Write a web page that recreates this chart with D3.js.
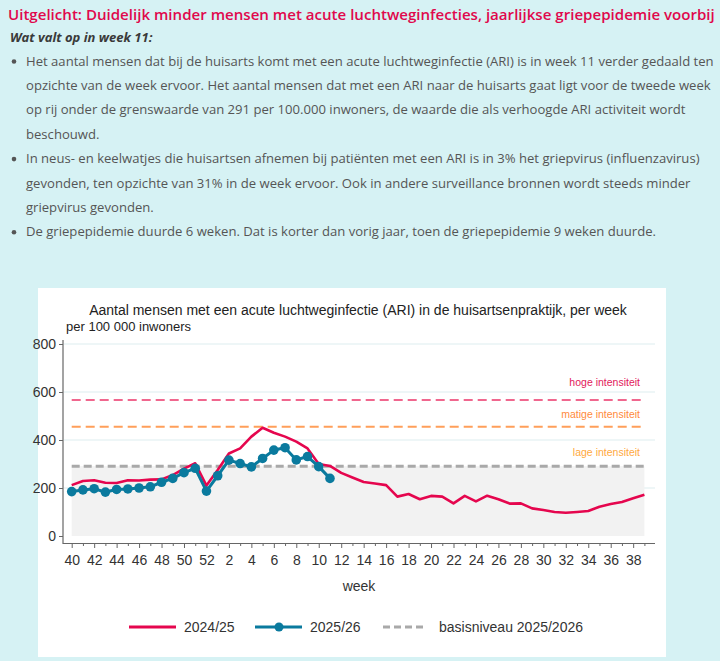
<!DOCTYPE html>
<html><head><meta charset="utf-8">
<script src="https://cdn.jsdelivr.net/npm/d3@7"></script>
<style>
html,body{margin:0;padding:0;background:#d6f2f4;}
svg{display:block;}
</style></head>
<body>
<svg id="c" width="720" height="661"></svg>
<script>
// ---------- data ----------
const weeks = [40,41,42,43,44,45,46,47,48,49,50,51,52,1,2,3,4,5,6,7,8,9,10,11,12,13,14,15,16,17,18,19,20,21,22,23,24,25,26,27,28,29,30,31,32,33,34,35,36,37,38,39];
const season2425 = [212,229,232,222,221,232,231,235,236,254,281,303,210,275,344,365,414,451,430,414,393,365,300,292,263,244,225,219,212,164,175,153,167,164,136,167,144,168,153,135,136,115,108,100,97,100,104,122,133,142,157,172];
const season2526 = [185,192,197,183,194,196,200,205,224,240,264,282,187,251,316,302,288,323,358,368,317,331,289,240];
const thresholdNames = ["hoge intensiteit","matige intensiteit","lage intensiteit"];
const thresholdValues = [567,455,291];
const yTicks = [0,200,400,600,800];
const legendLabels = ["2024/25","2025/26","basisniveau 2025/2026"];
const headline = "Uitgelicht: Duidelijk minder mensen met acute luchtweginfecties, jaarlijkse griepepidemie voorbij";
const subhead = "Wat valt op in week 11:";
const bullets = [
 ["Het aantal mensen dat bij de huisarts komt met een acute luchtweginfectie (ARI) is in week 11 verder gedaald ten",
  "opzichte van de week ervoor. Het aantal mensen dat met een ARI naar de huisarts gaat ligt voor de tweede week",
  "op rij onder de grenswaarde van 291 per 100.000 inwoners, de waarde die als verhoogde ARI activiteit wordt",
  "beschouwd."],
 ["In neus- en keelwatjes die huisartsen afnemen bij patiënten met een ARI is in 3% het griepvirus (influenzavirus)",
  "gevonden, ten opzichte van 31% in de week ervoor. Ook in andere surveillance bronnen wordt steeds minder",
  "griepvirus gevonden."],
 ["De griepepidemie duurde 6 weken. Dat is korter dan vorig jaar, toen de griepepidemie 9 weken duurde."]
];
const chartTitle = "Aantal mensen met een acute luchtweginfectie (ARI) in de huisartsenpraktijk, per week";
const yUnit = "per 100 000 inwoners";
const xTitle = "week";

// ---------- styles ----------
const RED = "#e5064e", BLUE = "#0a7a9e", GRAY = "#a9a9a9";
const thColors = ["#f0678e","#ff9f5a",GRAY];
const thLabelColors = ["#e2185a","#ff8a3c","#ffa940"];
const svg = d3.select("#c");
const sans = "'Open Sans', sans-serif";
const arial = "Arial, 'Liberation Sans', sans-serif";

// ---------- text block ----------
function fitText(sel, target){
  const w = sel.node().getComputedTextLength();
  const fs = parseFloat(sel.attr("font-size"));
  sel.attr("font-size", (fs*target/w).toFixed(2));
  return fs*target/w;
}
const h = svg.append("text").attr("x",8).attr("y",20).attr("font-family",sans)
  .attr("font-size",16).attr("font-weight",600).attr("fill","#e0084c").text(headline);
fitText(h, 707);
svg.append("text").attr("x",10).attr("y",42).attr("font-family",sans)
  .attr("font-size",13).attr("font-weight","bold").attr("font-style","italic")
  .attr("fill","#3a3a3a").text(subhead);

let lineY = 65.5;
const lh = 24.4;
let bodyFs = null;
bullets.forEach(par=>{
  svg.append("circle").attr("cx",14).attr("cy",lineY-4).attr("r",2.3).attr("fill","#555");
  par.forEach(line=>{
    const t = svg.append("text").attr("x",26).attr("y",lineY).attr("font-family",sans)
      .attr("font-size",13).attr("fill","#555").text(line);
    if(bodyFs===null){ bodyFs = fitText(t, 688); } else t.attr("font-size",bodyFs);
    lineY += lh;
  });
});

// ---------- chart box ----------
svg.append("rect").attr("x",38).attr("y",288).attr("width",628).attr("height",369).attr("fill","#fff");

const x = d3.scaleLinear().domain([0,51]).range([71.7,644.4]);
const y = d3.scaleLinear().domain([0,800]).range([536,344]);

// gridlines
svg.append("g").selectAll("line").data(yTicks.slice(1)).join("line")
  .attr("x1",64).attr("x2",655).attr("y1",d=>y(d)).attr("y2",d=>y(d))
  .attr("stroke","#e9f3f5").attr("stroke-width",1.5);

// baseline area
svg.append("rect").attr("x",x(0)).attr("y",y(thresholdValues[2]))
  .attr("width",x(51)-x(0)).attr("height",y(0)-y(thresholdValues[2])).attr("fill","#f2f2f2");

// threshold lines
thresholdValues.forEach((v,i)=>{
  svg.append("line").attr("x1",x(0)).attr("x2",x(51)).attr("y1",y(v)).attr("y2",y(v))
    .attr("stroke",thColors[i]).attr("stroke-width", i===2?3:2)
    .attr("stroke-dasharray", i===2?"8,4":"9,5");
});
[ {i:0,dy:-14},{i:1,dy:-9},{i:2,dy:-10} ].forEach(o=>{
  svg.append("text").attr("x",640).attr("y",y(thresholdValues[o.i])+o.dy)
    .attr("text-anchor","end").attr("font-family",arial).attr("font-size",10.5)
    .attr("fill",thLabelColors[o.i]).text(thresholdNames[o.i]);
});

// axes
const ya = svg.append("g").attr("transform","translate(63,0)")
  .call(d3.axisLeft(y).tickValues(yTicks).tickSize(4).tickPadding(3));
ya.select(".domain").attr("d","M0,340V544").attr("stroke","#666").attr("stroke-width",1.2);
ya.selectAll(".tick line").attr("stroke","#666");
ya.selectAll("text").attr("font-family",arial).attr("font-size",14).attr("fill","#333");

const xa = svg.append("g").attr("transform","translate(0,543.5)")
  .call(d3.axisBottom(x).tickValues(d3.range(weeks.length))
    .tickFormat(i=> i%2===0 ? weeks[i] : "").tickSize(4).tickPadding(8));
xa.select(".domain").attr("d","M63,0H655").attr("stroke","#666").attr("stroke-width",1.2);
xa.selectAll(".tick line").attr("stroke","#666").attr("y2",(d)=>d%2===0?4.5:2.5);
xa.selectAll("text").attr("font-family",arial).attr("font-size",14).attr("fill","#333");

// titles
svg.append("text").attr("x",358).attr("y",315).attr("text-anchor","middle")
  .attr("font-family",arial).attr("font-size",14).attr("fill","#222").text(chartTitle);
svg.append("text").attr("x",66).attr("y",331).attr("font-family",arial)
  .attr("font-size",13).attr("fill","#222").text(yUnit);
svg.append("text").attr("x",359).attr("y",591).attr("text-anchor","middle")
  .attr("font-family",arial).attr("font-size",14).attr("fill","#333").text(xTitle);

// lines
const line = d3.line().x((d,i)=>x(i)).y(d=>y(d));
svg.append("path").datum(season2425).attr("d",line).attr("fill","none")
  .attr("stroke",RED).attr("stroke-width",2.6).attr("stroke-linejoin","round");
svg.append("path").datum(season2526).attr("d",line).attr("fill","none")
  .attr("stroke",BLUE).attr("stroke-width",3).attr("stroke-linejoin","round");
svg.append("g").selectAll("circle").data(season2526).join("circle")
  .attr("cx",(d,i)=>x(i)).attr("cy",d=>y(d)).attr("r",4.8).attr("fill",BLUE);

// legend
const lg = svg.append("g").attr("font-family",arial).attr("font-size",14).attr("fill","#333");
lg.append("line").attr("x1",129).attr("x2",176).attr("y1",627).attr("y2",627).attr("stroke",RED).attr("stroke-width",3);
lg.append("text").attr("x",184).attr("y",632).text(legendLabels[0]);
lg.append("line").attr("x1",255).attr("x2",302).attr("y1",627).attr("y2",627).attr("stroke",BLUE).attr("stroke-width",3);
lg.append("circle").attr("cx",279).attr("cy",627).attr("r",4.5).attr("fill",BLUE);
lg.append("text").attr("x",310).attr("y",632).text(legendLabels[1]);
lg.append("line").attr("x1",383).attr("x2",427).attr("y1",627).attr("y2",627).attr("stroke",GRAY).attr("stroke-width",3).attr("stroke-dasharray","7,4");
lg.append("text").attr("x",439).attr("y",632).text(legendLabels[2]);
</script>
</body></html>
